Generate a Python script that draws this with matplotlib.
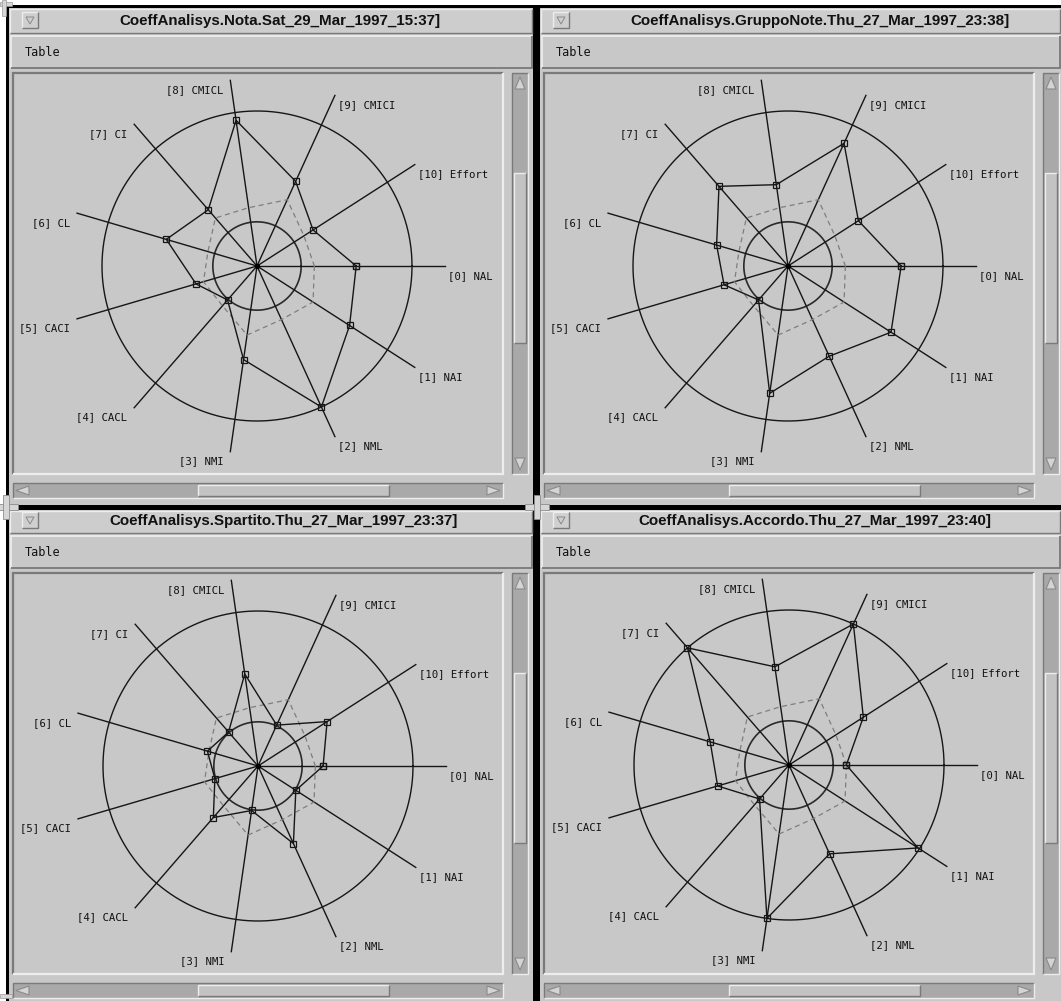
import numpy as np
import matplotlib
matplotlib.use('Agg')
import matplotlib.pyplot as plt
from matplotlib.patches import Rectangle, Polygon

W, H = 1061, 1001

# ---------------- data ----------------
axis_labels = ['[0] NAL', '[1] NAI', '[2] NML', '[3] NMI', '[4] CACL', '[5] CACI',
               '[6] CL', '[7] CI', '[8] CMICL', '[9] CMICI', '[10] Effort']
titles = ['CoeffAnalisys.Nota.Sat_29_Mar_1997_15:37]',
          'CoeffAnalisys.GruppoNote.Thu_27_Mar_1997_23:38]',
          'CoeffAnalisys.Spartito.Thu_27_Mar_1997_23:37]',
          'CoeffAnalisys.Accordo.Thu_27_Mar_1997_23:40]']
menu_label = 'Table'
nota = [0.64, 0.71, 1.00, 0.61, 0.29, 0.41, 0.61, 0.48, 0.95, 0.60, 0.43]
gruppo_note = [0.73, 0.79, 0.64, 0.83, 0.29, 0.43, 0.48, 0.68, 0.53, 0.87, 0.54]
spartito = [0.42, 0.29, 0.55, 0.29, 0.44, 0.29, 0.34, 0.29, 0.60, 0.29, 0.53]
accordo = [0.37, 0.99, 0.63, 1.00, 0.29, 0.48, 0.53, 1.00, 0.64, 1.00, 0.57]
reference = [0.37, 0.43, 0.38, 0.45, 0.34, 0.36, 0.33, 0.41, 0.38, 0.47, 0.36]
outer_ring = 1.0
inner_ring = 0.285
series = [nota, gruppo_note, spartito, accordo]

# ---------------- styling / layout ----------------
BODY = '#c8c8c8'
TROUGH = '#a9a9a9'
LIGHT = '#ededed'
DARK = '#7a7a7a'
INK = '#161616'
PX = 0.72  # points per pixel at dpi 100

fig = plt.figure(figsize=(W / 100, H / 100), dpi=100)
fig.patch.set_facecolor('white')
bg = fig.add_axes([0, 0, 1, 1])
bg.set_xlim(0, W)
bg.set_ylim(H, 0)
bg.axis('off')


def rect(x0, y0, x1, y1, fc, z=1, ec='none', lw=0):
    bg.add_patch(Rectangle((x0, y0), x1 - x0, y1 - y0, facecolor=fc,
                           edgecolor=ec, lw=lw, zorder=z))


def bevel(x0, y0, x1, y1, raised=True, w=1.0, z=3):
    tl, br = (LIGHT, DARK) if raised else (DARK, LIGHT)
    bg.plot([x0, x0, x1], [y1, y0, y0], color=tl, lw=w * PX * 1.4, zorder=z,
            solid_capstyle='butt', solid_joinstyle='miter')
    bg.plot([x0, x1, x1], [y1, y1, y0], color=br, lw=w * PX * 1.4, zorder=z,
            solid_capstyle='butt', solid_joinstyle='miter')


def tri(pts, z=5):
    bg.add_patch(Polygon(pts, closed=True, facecolor='#d4d4d4',
                         edgecolor='#8a8a8a', lw=0.8, zorder=z))


# black frame background
rect(6, 5, W, H, '#000000', z=0)

offsets = [(0, 0), (531, 0), (0, 500), (531, 500)]
title_cx = [280, 820, 284, 815]
body_rects = [(9, 8, 533, 505), (540, 8, W, 505), (9, 510, 533, H), (540, 510, W, H)]

for k, ((ox, oy), (bx0, by0, bx1, by1)) in enumerate(zip(offsets, body_rects)):
    rect(bx0, by0, bx1, by1, BODY, z=1)
    # title bar
    rect(bx0 + 1, by0 + 1, bx1, 33 + oy, '#cdcdcd', z=1.5)
    bevel(bx0 + 1, by0 + 1, bx1 - 1, 33 + oy, raised=True, w=1)
    bg.text(title_cx[k], 20.5 + oy, titles[k], ha='center', va='center',
            fontsize=10.9, fontweight='bold', family='Liberation Sans',
            color='#111111', zorder=6)
    # menu button
    rect(22 + ox, 12 + oy, 38 + ox, 28 + oy, '#cfcfcf', z=2)
    bevel(22 + ox, 12 + oy, 38 + ox, 28 + oy, raised=True, w=1)
    bg.add_patch(Polygon([(26 + ox, 17 + oy), (34 + ox, 17 + oy), (30 + ox, 24 + oy)],
                         closed=True, facecolor='none', edgecolor='#8a8a8a',
                         lw=0.7, zorder=6))
    # menu bar
    bevel(11 + ox, 36 + oy, min(532 + ox, W - 1), 68 + oy, raised=True, w=1.3)
    bg.text(25 + ox, 53 + oy, menu_label, ha='left', va='center', fontsize=8.6,
            family='DejaVu Sans Mono', color='#111111', zorder=6)
    # plot area
    px0, py0, px1, py1 = 13 + ox, 73 + oy, 503 + ox, 474 + oy
    rect(px0, py0, px1, py1, BODY, z=2)
    bevel(px0, py0, px1, py1, raised=False, w=1.6)
    # vertical scrollbar
    vx0, vx1 = 512 + ox, 528 + ox
    rect(vx0, py0, vx1, py1, TROUGH, z=2)
    bevel(vx0, py0, vx1, py1, raised=False, w=1)
    rect(vx0 + 2, 173 + oy, vx1 - 2, 343 + oy, '#c3c3c3', z=3)
    bevel(vx0 + 2, 173 + oy, vx1 - 2, 343 + oy, raised=True, w=1, z=4)
    tri([(vx0 + 3, py0 + 16), (vx1 - 3, py0 + 16), ((vx0 + vx1) / 2, py0 + 4)])
    tri([(vx0 + 3, py1 - 16), (vx1 - 3, py1 - 16), ((vx0 + vx1) / 2, py1 - 4)])
    # horizontal scrollbar
    hy0, hy1 = 483 + oy, 498 + oy
    rect(px0, hy0, px1, hy1, TROUGH, z=2)
    bevel(px0, hy0, px1, hy1, raised=False, w=1)
    rect(198 + ox, hy0 + 2, 389 + ox, hy1 - 2, '#c3c3c3', z=3)
    bevel(198 + ox, hy0 + 2, 389 + ox, hy1 - 2, raised=True, w=1, z=4)
    tri([(px0 + 16, hy0 + 3), (px0 + 16, hy1 - 3), (px0 + 3, (hy0 + hy1) / 2)])
    tri([(px1 - 16, hy0 + 3), (px1 - 16, hy1 - 3), (px1 - 3, (hy0 + hy1) / 2)])

# corner / junction decorations
for (x, y) in [(537, 507), (6, 507)]:
    rect(x - 12, y - 3, x + 12, y + 3, '#d6d6d6', z=7, ec='#8c8c8c', lw=0.6)
    rect(x - 3, y - 12, x + 3, y + 12, '#d6d6d6', z=7, ec='#8c8c8c', lw=0.6)
rect(0, 2, 12, 6, '#d6d6d6', z=7, ec='#9a9a9a', lw=0.5)
rect(2, 0, 6, 16, '#d6d6d6', z=7, ec='#9a9a9a', lw=0.5)
rect(0, 994, 12, 998, '#d6d6d6', z=7, ec='#9a9a9a', lw=0.5)

# ---------------- radar charts ----------------
n = len(axis_labels)
angles = -np.arange(n) * 2 * np.pi / n
SCALE = 155.0   # pixels per unit (outer ring)
AXLEN = 1.21
tt = np.linspace(0, 2 * np.pi, 500)
centers = [(257, 266), (788, 266), (258, 766), (789, 765)]

for (ox, oy), (cx, cy), vals in zip(offsets, centers, series):
    px0, py0, px1, py1 = 15 + ox, 75 + oy, 502 + ox, 472 + oy
    ax = fig.add_axes([px0 / W, 1 - py1 / H, (px1 - px0) / W, (py1 - py0) / H])
    ax.set_xlim((px0 - cx) / SCALE, (px1 - cx) / SCALE)
    ax.set_ylim((cy - py1) / SCALE, (cy - py0) / SCALE)
    ax.axis('off')
    ax.patch.set_alpha(0)

    lw = 1.0
    ax.plot(outer_ring * np.cos(tt), outer_ring * np.sin(tt), color=INK, lw=lw)
    ax.plot(inner_ring * np.cos(tt), inner_ring * np.sin(tt), color='#2a2a2a', lw=1.2)
    for a in angles:
        ax.plot([0, AXLEN * np.cos(a)], [0, AXLEN * np.sin(a)], color=INK, lw=lw)

    ref = np.array(reference + reference[:1])
    aa = np.concatenate([angles, angles[:1]])
    ax.plot(ref * np.cos(aa), ref * np.sin(aa), color='#7e7e7e', lw=0.9,
            ls=(0, (4, 3)))

    v = np.array(vals + vals[:1])
    ax.plot(v * np.cos(aa), v * np.sin(aa), color=INK, lw=lw, marker='s',
            markersize=4.6, markerfacecolor='none', markeredgecolor=INK,
            markeredgewidth=0.9)
    ax.plot([0], [0], 'o', color='black', markersize=2.8)

    for a, lab in zip(angles, axis_labels):
        ex, ey = AXLEN * np.cos(a), AXLEN * np.sin(a)
        if np.cos(a) > 0.01:
            ax.text(ex + 0.022, ey - 0.062, lab, ha='left', va='center',
                    fontsize=7.7, family='DejaVu Sans Mono', color='#111111')
        else:
            ax.text(ex - 0.045, ey - 0.062, lab, ha='right', va='center',
                    fontsize=7.7, family='DejaVu Sans Mono', color='#111111')

fig.savefig('out.png', dpi=100, facecolor='white')
